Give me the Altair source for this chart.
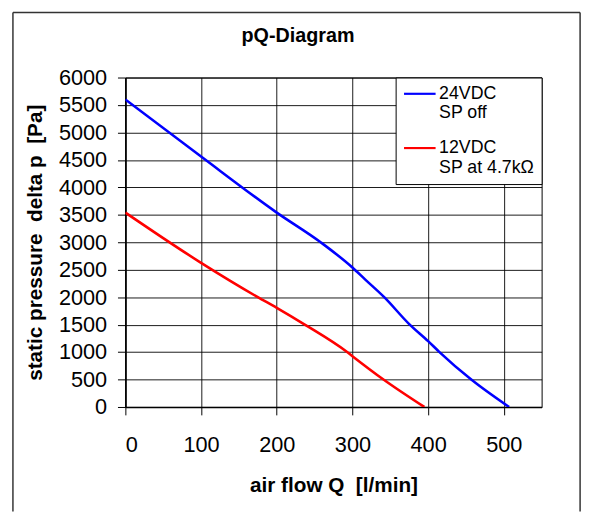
import altair as alt
import pandas as pd

# ---- data ----
q_24 = [0, 100, 200, 258, 300, 317, 342, 375, 400, 415, 457, 507]
p_24 = [5600, 4560, 3540, 3000, 2540, 2320, 2000, 1510, 1200, 1000, 500, 0]
q_12 = [0, 100, 175, 200, 237, 293, 300, 341, 395]
p_12 = [3540, 2625, 2000, 1805, 1500, 1000, 925, 500, 0]
series_names = ["24VDC|SP off", "12VDC|SP at 4.7kΩ"]
series_colors = ["#0000ff", "#ff0000"]
x_ticks = [0, 100, 200, 300, 400, 500]
y_ticks = [0, 500, 1000, 1500, 2000, 2500, 3000, 3500, 4000, 4500, 5000, 5500, 6000]

rows = []
for name, qs, ps in [(series_names[0], q_24, p_24), (series_names[1], q_12, p_12)]:
    for i, (q, p) in enumerate(zip(qs, ps)):
        rows.append({"series": name, "q": q, "p": p, "order": i})
df = pd.DataFrame(rows)

FONT = "Arial"

lines = alt.Chart(df).mark_line(strokeWidth=2.6, interpolate="monotone", clip=True).encode(
    x=alt.X("q:Q",
            scale=alt.Scale(domain=[0, 550], nice=False, zero=False),
            axis=alt.Axis(values=x_ticks, format="d", title="air flow Q \u00a0[l/min]",
                          labelPadding=20, tickSize=8, titlePadding=20,
                          labelFontSize=22, titleFontSize=21)),
    y=alt.Y("p:Q",
            scale=alt.Scale(domain=[0, 6000], nice=False),
            axis=alt.Axis(values=y_ticks, format="d", title="static pressure \u00a0delta p \u00a0[Pa]",
                          labelPadding=11, tickSize=8, titlePadding=13,
                          labelFontSize=22, titleFontSize=21)),
    color=alt.Color("series:N",
                    scale=alt.Scale(domain=series_names, range=series_colors),
                    legend=alt.Legend(title=None, orient="top-right", offset=0,
                                      labelExpr="split(datum.label, '|')",
                                      labelFont=FONT, labelFontSize=18, labelColor="black",
                                      labelBaseline="middle", labelOffset=18,
                                      symbolType="M-1,0H3", symbolSize=256,
                                      symbolStrokeWidth=2.2,
                                      fillColor="white", strokeColor="black",
                                      padding=7, rowPadding=16, columnPadding=0)),
    order="order:Q",
)

frame_src = pd.DataFrame({"k": [0]})
frame_left = alt.Chart(frame_src).mark_rule(color="#333333", strokeWidth=1.5).encode(
    x=alt.value(-114), y=alt.value(-66), y2=alt.value(440))
frame_right = alt.Chart(frame_src).mark_rule(color="#333333", strokeWidth=1.5).encode(
    x=alt.value(461), y=alt.value(-66), y2=alt.value(440))
frame_top = alt.Chart(frame_src).mark_rule(color="#333333", strokeWidth=1.5).encode(
    x=alt.value(-114), x2=alt.value(461), y=alt.value(-66))

chart = alt.layer(frame_left, frame_right, frame_top, lines).properties(
    width=422,
    height=334,
    title=alt.TitleParams("pQ-Diagram", font=FONT, fontSize=20, fontWeight="bold",
                          color="black", anchor="middle", baseline="alphabetic",
                          dx=-36, dy=51, offset=0),
    autosize=alt.AutoSizeParams(type="none"),
    padding={"left": 119, "top": 67, "right": 46, "bottom": 104},
    background="white",
).configure_view(
    stroke="black", strokeWidth=1
).configure_axis(
    labelFont=FONT, titleFont=FONT, labelColor="black", titleColor="black",
    titleFontWeight="bold", domainColor="black", domainWidth=1.5,
    tickColor="black", tickWidth=1, gridColor="black", gridWidth=1, gridOpacity=0.9,
    grid=True,
)

chart.save("out.html", embed_options={"renderer": "svg", "actions": False})
